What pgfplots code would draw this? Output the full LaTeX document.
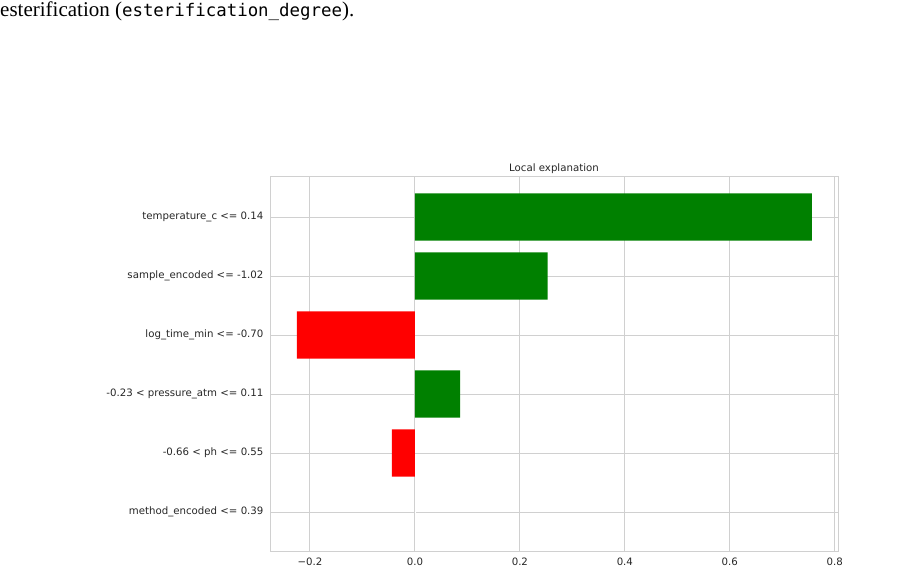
\documentclass[border=0pt]{standalone}
\usepackage{fontspec}
\setmainfont{DejaVu Sans}
\newfontfamily\capserif{Liberation Serif}
\newfontfamily\capmono{DejaVu Sans Mono}
\usepackage{pgfplots}
\pgfplotsset{compat=1.18}
\definecolor{gridgray}{HTML}{D0D0D0}
\definecolor{txtgray}{HTML}{262626}
\definecolor{limegreen}{HTML}{008000}
\definecolor{limered}{HTML}{FF0000}
\begin{document}
\begin{tikzpicture}[x=1pt,y=1pt]
\path[use as bounding box] (0,0) rectangle (897,575);
\node[anchor=base west, inner sep=0pt] at (0,558) {\capserif\fontsize{21}{24}\selectfont esterification (\capmono\fontsize{17.4}{20}\selectfont esterification\_degree\capserif\fontsize{21}{24}\selectfont).};
\begin{axis}[
  at={(270pt,23pt)}, anchor=south west,
  scale only axis, width=568pt, height=375pt,
  xbar, bar width=0.8, bar shift=0pt,
  xmin=-0.276, xmax=0.806,
  ymin=-0.678, ymax=5.678,
  xtick={-0.2,0,0.2,0.4,0.6,0.8},
  xticklabels={−0.2,0.0,0.2,0.4,0.6,0.8},
  ytick={0,1,2,3,4,5},
  yticklabels={method\_encoded <= 0.39,-0.66 < ph <= 0.55,-0.23 < pressure\_atm <= 0.11,log\_time\_min <= -0.70,sample\_encoded <= -1.02,temperature\_c <= 0.14},
  major tick length=0pt,
  grid=major,
  major grid style={gridgray, line width=0.8pt},
  axis line style={gridgray, line width=1pt},
  ticklabel style={font=\fontsize{10.2}{12}\selectfont, text=txtgray},
  yticklabel style={xshift=-3pt},
  xticklabel style={yshift=-2pt},
  title={Local explanation},
  title style={font=\fontsize{10.2}{12}\selectfont, text=txtgray, yshift=-6pt},
]
\addplot[fill=limegreen, draw=none] coordinates {(0.756,5) (0.253,4) (0.086,2)};
\addplot[fill=limered, draw=none] coordinates {(-0.225,3) (-0.044,1)};
\addplot[fill=white, draw=none] coordinates {(0.002,0)};
\end{axis}
\end{tikzpicture}
\end{document}
